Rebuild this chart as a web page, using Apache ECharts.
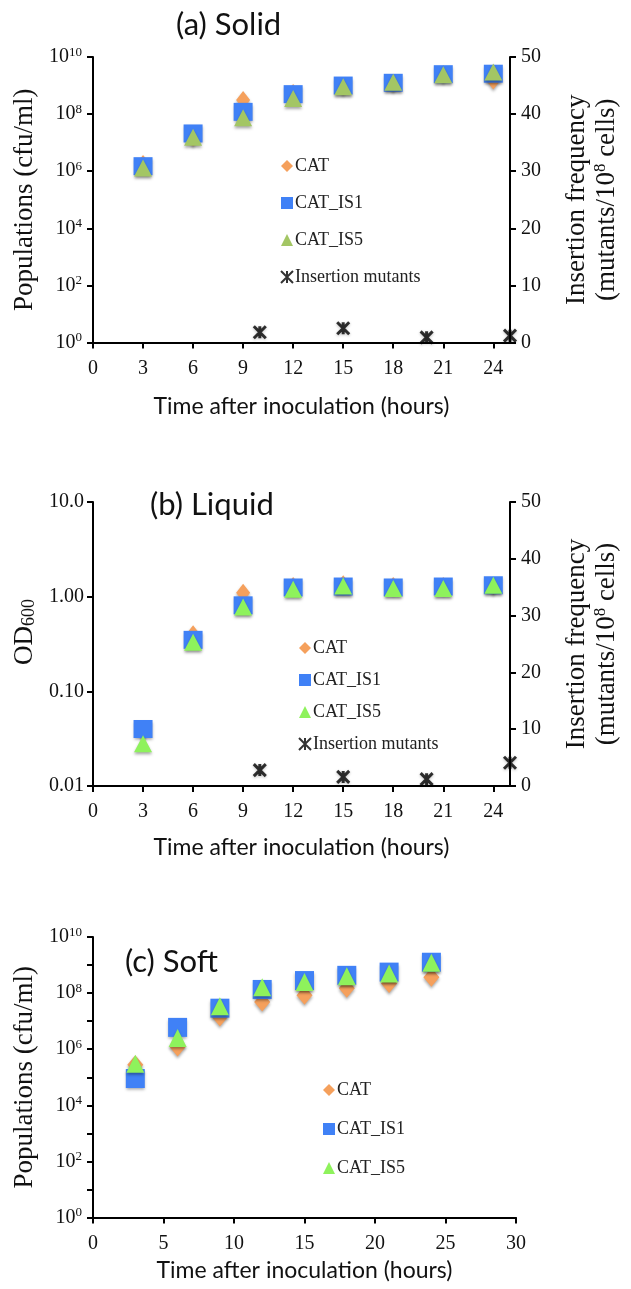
<!DOCTYPE html>
<html>
<head>
<meta charset="utf-8">
<script src="https://cdn.jsdelivr.net/npm/echarts@6/dist/echarts.min.js"></script>
<style>
  html, body { margin: 0; padding: 0; background: #fff; }
  .chart { position: absolute; left: 0; width: 631px; }
</style>
</head>
<body>
<div id="solidChart" class="chart" style="top:0;height:440px"></div>
<div id="liquidChart" class="chart" style="top:440px;height:440px"></div>
<div id="softChart" class="chart" style="top:880px;height:409px"></div>
<script>
(function () {
  "use strict";

  // time points (hours)
  const HOURS = [3, 6, 9, 12, 15, 18, 21, 24];
  const MUT_HOURS = [10, 15, 20, 25];

  // (a) solid, cfu/ml
  const solidCAT = [1.8e6, 1.5e7, 3.1e8, 5.5e8, 9.5e8, 1.2e9, 2.5e9, 1.5e9];
  const solidIS1 = [1.5e6, 2.1e7, 1.2e8, 5e8, 1e9, 1.25e9, 2.5e9, 2.6e9];
  const solidIS5 = [1.3e6, 1.55e7, 7.5e7, 3.5e8, 9e8, 1.3e9, 2.4e9, 3e9];
  const solidMut = [1.8, 2.5, 0.9, 1.2];

  // (b) liquid, OD600
  const liquidCAT = [0.038, 0.4, 1.1, 1.3, 1.35, 1.3, 1.3, 1.3];
  const liquidIS1 = [0.04, 0.35, 0.81, 1.25, 1.28, 1.25, 1.28, 1.32];
  const liquidIS5 = [0.028, 0.33, 0.78, 1.2, 1.3, 1.22, 1.22, 1.32];
  const liquidMut = [2.8, 1.6, 1.2, 4.1];

  // (c) soft, cfu/ml
  const softCAT = [2.8e5, 1.2e6, 1.4e7, 4.8e7, 8.3e7, 1.5e8, 2.2e8, 3.7e8];
  const softIS1 = [9e4, 6e6, 2.9e7, 1.35e8, 2.8e8, 4.3e8, 5.6e8, 1.26e9];
  const softIS5 = [3e5, 2.5e6, 3.4e7, 1.6e8, 2.5e8, 4e8, 5e8, 1.2e9];

  const OD_TICKS = ["0.01", "0.10", "1.00", "10.0"];

  const SERIF = "Liberation Serif";
  const SANS = "Lato";
  const ORANGE = "#f5a05c";
  const BLUE = "#4081f6";
  const OLIVE = "#a3c664";
  const LIME = "#8ef25c";
  const STAR = "path://M0,0L10,10M10,0L0,10M5,0L5,10";

  const shadow = { shadowColor: "rgba(0,0,0,0.35)", shadowBlur: 3, shadowOffsetY: 2 };
  const axisLine = { show: true, lineStyle: { color: "#000", width: 2 } };
  const axisTick = { show: true, length: 6, lineStyle: { color: "#000", width: 2 } };
  const labelStyle = { color: "#111", fontFamily: SERIF, fontSize: 20 };
  const supRich = { sup: { fontFamily: SERIF, fontSize: 13, color: "#111", verticalAlign: "top", padding: [0, 0, 9, 0] } };
  const titleStyle = { fontFamily: SANS, fontSize: 31, fontWeight: "normal", color: "#111" };

  const pow10 = v => "10{sup|" + Math.round(Math.log10(v)) + "}";
  const evenPow10 = v => (Math.round(Math.log10(v)) % 2 === 0 ? pow10(v) : "");
  const pairs = (xs, ys) => xs.map((x, i) => [x, ys[i]]);

  function xAxisOpt(max, interval, gap) {
    return {
      type: "value", min: 0, max, interval,
      axisLine, axisTick, splitLine: { show: false },
      axisLabel: Object.assign({ margin: 16, showMaxLabel: max % interval === 0 }, labelStyle),
      name: "Time after inoculation (hours)", nameLocation: "middle", nameGap: gap,
      nameTextStyle: { fontFamily: SANS, fontSize: 23, color: "#111" },
    };
  }

  function popAxisOpt(interval, formatter, tickAll) {
    return {
      type: "log", logBase: 10, min: 1, max: 1e10, interval,
      axisLine, axisTick: Object.assign({ interval: tickAll ? 0 : "auto" }, axisTick), splitLine: { show: false },
      axisLabel: Object.assign({ formatter, rich: supRich, margin: 11 }, labelStyle),
      name: "Populations (cfu/ml)", nameLocation: "middle", nameRotate: 90, nameGap: 52,
      nameTextStyle: { fontFamily: SERIF, fontSize: 27, color: "#111" },
    };
  }

  function rightAxisOpt() {
    return {
      type: "value", position: "right", min: 0, max: 50, interval: 10,
      axisLine, axisTick, splitLine: { show: false },
      axisLabel: Object.assign({ margin: 11 }, labelStyle),
      name: "{a|Insertion frequency}\n{a|(mutants/10}{s|8}{a| cells)}",
      nameLocation: "middle", nameRotate: 90, nameGap: 52,
      nameTextStyle: {
        rich: {
          a: { fontFamily: SERIF, fontSize: 27, color: "#111", lineHeight: 30 },
          s: { fontFamily: SERIF, fontSize: 17, color: "#111", verticalAlign: "top", padding: [0, 0, 12, 0] },
        },
      },
    };
  }

  function scatter(name, data, symbol, size, color, yAxisIndex) {
    return {
      name, type: "scatter", data, symbol, symbolSize: size, yAxisIndex: yAxisIndex || 0,
      itemStyle: Object.assign({ color, opacity: 1 }, shadow),
      emphasis: { disabled: true },
    };
  }

  function starSeries(data) {
    return {
      name: "Insertion mutants", type: "scatter", data, symbol: STAR, symbolSize: 12, yAxisIndex: 1,
      itemStyle: { color: "#000", borderColor: "#000", borderWidth: 3, shadowColor: "rgba(0,0,0,0.3)", shadowBlur: 3, shadowOffsetY: 1 },
      emphasis: { disabled: true },
    };
  }

  function legendOpt(left, top, gap, names) {
    return {
      orient: "vertical", left, top, itemGap: gap, itemWidth: 12, itemHeight: 12,
      textStyle: { fontFamily: SERIF, fontSize: 18, lineHeight: 18, color: "#222", padding: [0, 0, 0, -3] },
      data: names, selectedMode: false,
    };
  }

  const solidChart = echarts.init(document.getElementById("solidChart"));
  const liquidChart = echarts.init(document.getElementById("liquidChart"));
  const softChart = echarts.init(document.getElementById("softChart"));
  const charts = [solidChart, liquidChart, softChart];

  function solid() {
    solidChart.setOption({
      animation: false,
      title: { text: "(a) Solid", left: 171, top: 4, textStyle: titleStyle },
      legend: legendOpt(275, 152, 19, ["CAT", "CAT_IS1", "CAT_IS5", "Insertion mutants"]),
      grid: { left: 93, width: 417, top: 57, height: 285.5, outerBoundsMode: "none" },
      xAxis: xAxisOpt(25, 3, 53),
      yAxis: [popAxisOpt(2, pow10, false), rightAxisOpt()],
      series: [
        scatter("CAT", pairs(HOURS, solidCAT), "diamond", [14, 18], ORANGE),
        scatter("CAT_IS1", pairs(HOURS, solidIS1), "rect", [19, 18], BLUE),
        scatter("CAT_IS5", pairs(HOURS, solidIS5), "triangle", [18, 17], OLIVE),
        starSeries(pairs(MUT_HOURS, solidMut)),
      ],
    }, true);
  }

  function liquid() {
    liquidChart.setOption({
      animation: false,
      title: { text: "(b) Liquid", left: 145, top: 44, textStyle: titleStyle },
      legend: legendOpt(293, 194, 14, ["CAT", "CAT_IS1", "CAT_IS5", "Insertion mutants"]),
      grid: { left: 93, width: 417, top: 62, height: 284, outerBoundsMode: "none" },
      xAxis: xAxisOpt(25, 3, 50),
      yAxis: [
        {
          type: "log", logBase: 10, min: 0.01, max: 10, interval: 1,
          axisLine, axisTick, splitLine: { show: false },
          axisLabel: Object.assign({ formatter: v => OD_TICKS[Math.round(Math.log10(v)) + 2], margin: 9 }, labelStyle),
          name: "{a|OD}{s|600}", nameLocation: "middle", nameRotate: 90, nameGap: 50,
          nameTextStyle: {
            padding: [0, 0, 0, 24],
            rich: {
              a: { fontFamily: SERIF, fontSize: 27, color: "#111" },
              s: { fontFamily: SERIF, fontSize: 18, color: "#111", verticalAlign: "bottom", padding: [8, 0, 0, 0] },
            },
          },
        },
        rightAxisOpt(),
      ],
      series: [
        scatter("CAT", pairs(HOURS, liquidCAT), "diamond", [14, 18], ORANGE),
        scatter("CAT_IS1", pairs(HOURS, liquidIS1), "rect", [19, 18], BLUE),
        scatter("CAT_IS5", pairs(HOURS, liquidIS5), "triangle", [18, 17], LIME),
        starSeries(pairs(MUT_HOURS, liquidMut)),
      ],
    }, true);
  }

  function soft() {
    softChart.setOption({
      animation: false,
      title: { text: "(c) Soft", left: 120, top: 61, textStyle: titleStyle },
      legend: legendOpt(318, 196, 21, ["CAT", "CAT_IS1", "CAT_IS5"]),
      grid: { left: 93, width: 423, top: 57, height: 280.5, outerBoundsMode: "none" },
      xAxis: xAxisOpt(30, 5, 42),
      yAxis: popAxisOpt(1, evenPow10, true),
      series: [
        scatter("CAT", pairs(HOURS, softCAT), "diamond", [16, 19], ORANGE),
        scatter("CAT_IS1", pairs(HOURS, softIS1), "rect", [19, 19], BLUE),
        scatter("CAT_IS5", pairs(HOURS, softIS5), "triangle", [18, 18], LIME),
      ],
    }, true);
  }

  solid();
  liquid();
  soft();
  window.addEventListener("resize", () => charts.forEach(c => c.resize()));
})();
</script>
</body>
</html>
